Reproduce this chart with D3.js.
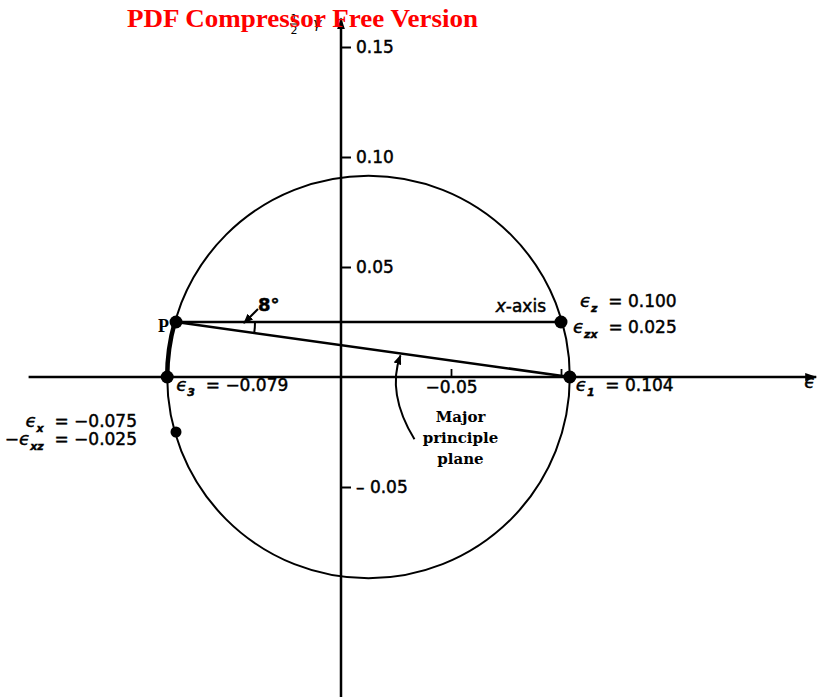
<!DOCTYPE html>
<html>
<head>
<meta charset="utf-8">
<script src="https://cdn.jsdelivr.net/npm/d3@7/dist/d3.min.js"></script>
<style>
body { margin: 0; background: #fff; }
svg { display: block; }
.lbl { font-family: "DejaVu Sans", sans-serif; font-size: 17px; fill: #000; stroke: #000; stroke-width: 0.45px; }
.note { font-family: "DejaVu Serif", serif; font-weight: bold; font-size: 15px; fill: #000; }
.mark { font-family: "Liberation Serif", serif; font-weight: bold; fill: #f00; }
</style>
</head>
<body>
<svg width="817" height="697"></svg>
<script>
// principal strains: eps1, eps3
const principalStrains = [0.104, -0.079];
// points on the circle (normal strain, half shear strain)
const pointNames = ['P', 'z', 'x'];
const pointStrain = [-0.075, 0.100, -0.075];
const pointShear = [0.025, 0.025, -0.025];
const yTickValues = [0.15, 0.10, 0.05, -0.05];
const yTickLabels = ['0.15', '0.10', '0.05', '\u2013 0.05'];
const xTickValues = [0.05, 0.10];
const xTickLabels = ['\u22120.05', ''];
const angleLabel = '8\u00b0';
const EPS = '\u03f5';

const svg = d3.select('svg');

const x = d3.scaleLinear().domain([0, 0.1]).range([341, 561]);
const y = d3.scaleLinear().domain([0, 0.1]).range([377, 157]);

const pts = pointNames.map((n, i) => ({ name: n, e: pointStrain[i], g: pointShear[i] }));
const P = pts[0], Z = pts[1], X = pts[2];
const e1 = principalStrains[0], e3 = principalStrains[1];
const centre = (e1 + e3) / 2;
const radius = (e1 - e3) / 2;

const defs = svg.append('defs');
defs.append('marker')
    .attr('id', 'head')
    .attr('viewBox', '0 0 12 8')
    .attr('refX', 11).attr('refY', 4)
    .attr('markerWidth', 12).attr('markerHeight', 8)
    .attr('markerUnits', 'userSpaceOnUse')
    .attr('orient', 'auto')
    .append('path').attr('d', 'M0,0 L12,4 L0,8 Z').attr('fill', '#000');
defs.append('marker')
    .attr('id', 'small')
    .attr('viewBox', '0 0 10 8')
    .attr('refX', 9).attr('refY', 4)
    .attr('markerWidth', 10).attr('markerHeight', 8)
    .attr('markerUnits', 'userSpaceOnUse')
    .attr('orient', 'auto')
    .append('path').attr('d', 'M0,0 L10,4 L0,8 Z').attr('fill', '#000');

// circle
svg.append('circle')
    .attr('cx', x(centre)).attr('cy', y(0))
    .attr('r', x(radius) - x(0))
    .attr('fill', 'none').attr('stroke', '#000').attr('stroke-width', 2);

// axes
svg.append('line')
    .attr('x1', x(-0.142)).attr('x2', x(0.216))
    .attr('y1', y(0)).attr('y2', y(0))
    .attr('stroke', '#000').attr('stroke-width', 2.5)
    .attr('marker-end', 'url(#head)');
svg.append('line')
    .attr('x1', x(0)).attr('x2', x(0))
    .attr('y1', y(-0.16)).attr('y2', y(0.163))
    .attr('stroke', '#000').attr('stroke-width', 2.5)
    .attr('marker-end', 'url(#head)');

const yAxis = svg.append('g')
    .attr('transform', `translate(${x(0)},0)`)
    .call(d3.axisRight(y).tickValues(yTickValues).tickSize(10).tickPadding(5)
        .tickFormat((d, i) => yTickLabels[i]));
yAxis.select('.domain').remove();
yAxis.selectAll('line').attr('stroke-width', 2);
yAxis.selectAll('text').attr('class', 'lbl').attr('font-size', null).attr('font-family', null);

const xAxis = svg.append('g')
    .attr('transform', `translate(0,${y(0)})`)
    .call(d3.axisBottom(x).tickValues(xTickValues).tickSize(-8).tickPadding(4)
        .tickFormat((d, i) => xTickLabels[i]));
xAxis.select('.domain').remove();
xAxis.selectAll('line').attr('stroke-width', 1.8);
xAxis.selectAll('text').attr('class', 'lbl').attr('font-size', null).attr('font-family', null);

// lines from the pole
svg.append('line')
    .attr('x1', x(P.e)).attr('y1', y(P.g))
    .attr('x2', x(Z.e)).attr('y2', y(Z.g))
    .attr('stroke', '#000').attr('stroke-width', 2.5);
svg.append('line')
    .attr('x1', x(P.e)).attr('y1', y(P.g))
    .attr('x2', x(e1)).attr('y2', y(0))
    .attr('stroke', '#000').attr('stroke-width', 2.5);

// thick arc from P down to eps3
const cx = x(centre), cy = y(0), r = x(radius) - x(0);
let aP = Math.atan2(y(P.g) - cy, x(P.e) - cx);
if (aP < 0) aP += 2 * Math.PI;
const thick = d3.path();
thick.arc(cx, cy, r, Math.PI, aP, false);
svg.append('path').attr('d', thick.toString())
    .attr('fill', 'none').attr('stroke', '#000').attr('stroke-width', 4.5);

// 8 degree angle
const px = x(P.e), py = y(P.g);
const aLine = Math.atan2(y(0) - py, x(e1) - px);
const small = d3.path();
small.arc(px, py, 79, 0, aLine, false);
svg.append('path').attr('d', small.toString())
    .attr('fill', 'none').attr('stroke', '#000').attr('stroke-width', 2);
svg.append('line')
    .attr('x1', px + 82).attr('y1', py - 13)
    .attr('x2', px + 68).attr('y2', py + 1)
    .attr('stroke', '#000').attr('stroke-width', 2)
    .attr('marker-end', 'url(#small)');
svg.append('text').attr('class', 'lbl')
    .attr('x', px + 82).attr('y', py - 11)
    .style('font-size', '18px').style('font-weight', 'bold')
    .text(angleLabel);

// major principle plane arrow
const t = 0.57;
const tipX = px + t * (x(e1) - px), tipY = py + t * (y(0) - py);
svg.append('path')
    .attr('d', `M${tipX + 14},${tipY + 86} Q${tipX - 14},${tipY + 40} ${tipX},${tipY + 2}`)
    .attr('fill', 'none').attr('stroke', '#000').attr('stroke-width', 2)
    .attr('marker-end', 'url(#small)');
const note = svg.append('text').attr('class', 'note').attr('text-anchor', 'middle');
['Major', 'principle', 'plane'].forEach((s, i) => {
    note.append('tspan').attr('x', tipX + 60).attr('y', tipY + 69 + i * 21).text(s);
});

// points
svg.selectAll('circle.pt')
    .data([P, Z, X, { e: e1, g: 0 }, { e: e3, g: 0 }])
    .enter().append('circle')
    .attr('class', 'pt')
    .attr('cx', d => x(d.e)).attr('cy', d => y(d.g))
    .attr('r', (d, i) => i === 2 ? 5.5 : 6.5)
    .attr('fill', '#000');

// labels
function eps(xPos, yPos, sub, rest, anchor, prefix) {
    const t = svg.append('text').attr('class', 'lbl')
        .attr('x', xPos).attr('y', yPos)
        .attr('text-anchor', anchor || 'start');
    if (prefix) t.append('tspan').text(prefix);
    t.append('tspan').style('font-style', 'italic').style('font-size', '18px').text(EPS);
    t.append('tspan').attr('dy', 5).style('font-size', '11px').style('font-style', 'italic')
        .style('font-weight', 'bold').text(sub);
    t.append('tspan').attr('dy', -5).attr('xml:space', 'preserve').text(rest);
    return t;
}
eps(x(e1) + 6, y(0) + 14, '1', '  = 0.104');
eps(x(e3) + 9, y(0) + 14, '3', '  = \u22120.079');
eps(x(Z.e) + 19, y(Z.g) - 15, 'z', '  = 0.100');
eps(x(Z.e) + 12, y(Z.g) + 11, 'zx', '  = 0.025');
eps(137, y(X.g) - 5, 'x', '  = \u22120.075', 'end');
eps(137, y(X.g) + 13, 'xz', '  = \u22120.025', 'end', '\u2212');

const xa = svg.append('text').attr('class', 'lbl')
    .attr('x', x(Z.e) - 15).attr('y', y(Z.g) - 10)
    .attr('text-anchor', 'end');
xa.append('tspan').style('font-style', 'italic').text('x');
xa.append('tspan').text('-axis');

svg.append('text')
    .attr('x', x(P.e) - 18).attr('y', y(P.g) + 10)
    .attr('font-family', 'Liberation Serif, serif').attr('font-weight', 'bold')
    .attr('font-size', 18).text('P');

svg.append('text').attr('class', 'lbl')
    .attr('x', x(0.216) - 12).attr('y', y(0) + 11)
    .style('font-style', 'italic').style('font-size', '18px')
    .text(EPS);

// half gamma label at the top of the vertical axis
const hg = svg.append('g').attr('font-family', 'DejaVu Sans, sans-serif').attr('font-size', 11);
hg.append('text').attr('x', x(0) - 47).attr('y', 22).attr('text-anchor', 'middle').text('1');
hg.append('line').attr('x1', x(0) - 51).attr('x2', x(0) - 43).attr('y1', 24).attr('y2', 24)
    .attr('stroke', '#000').attr('stroke-width', 1);
hg.append('text').attr('x', x(0) - 47).attr('y', 34).attr('text-anchor', 'middle').text('2');
hg.append('text').attr('x', x(0) - 28).attr('y', 28).attr('font-style', 'italic').attr('font-size', 14).text('\u03b3');

// watermark
svg.append('text').attr('class', 'mark')
    .attr('x', 127).attr('y', 27)
    .attr('font-size', 26)
    .attr('textLength', 351).attr('lengthAdjust', 'spacingAndGlyphs')
    .text('PDF Compressor Free Version');
</script>
</body>
</html>
